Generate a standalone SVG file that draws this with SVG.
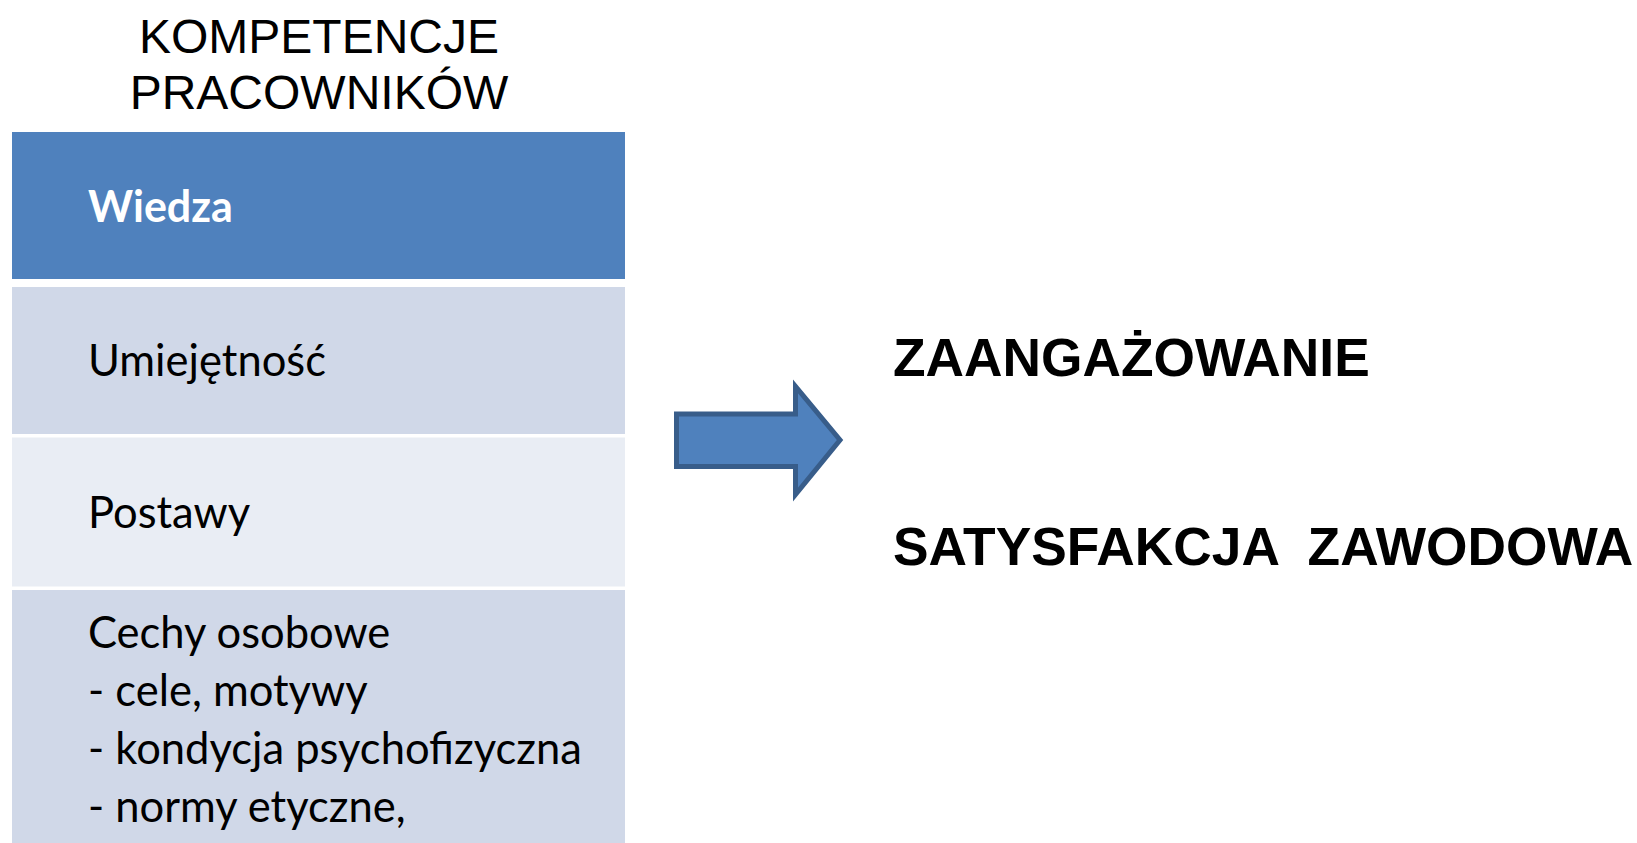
<svg xmlns="http://www.w3.org/2000/svg" width="1637" height="843" viewBox="0 0 1637 843">
<style>
.title{font-family:"Liberation Sans",Arial,sans-serif;font-size:48px;fill:#000;text-anchor:middle}
.lbl{font-family:Lato,"Open Sans",sans-serif;font-size:43.5px;fill:#000}
.lblw{font-family:Lato,"Open Sans",sans-serif;font-size:43px;font-weight:bold;fill:#fff}
.big{font-family:"Liberation Sans",Arial,sans-serif;font-size:53.3px;font-weight:bold;fill:#000}
</style>
<rect width="1637" height="843" fill="#fff"/>
<g id="title">
<text class="title" x="319" y="52.5">KOMPETENCJE</text>
<text class="title" x="319" y="108.5">PRACOWNIKÓW</text>
</g>
<g id="wiedza">
<rect x="12" y="132" width="613" height="147" fill="#4f81bd"/>
<text class="lblw" x="88" y="222">Wiedza</text>
</g>
<g id="umiejetnosc">
<rect x="12" y="287" width="613" height="147" fill="#d0d8e8"/>
<text class="lbl" x="88" y="376">Umiejętność</text>
</g>
<g id="postawy">
<rect x="12" y="437.5" width="613" height="149" fill="#e9edf4"/>
<text class="lbl" x="88" y="528">Postawy</text>
</g>
<g id="cechy">
<rect x="12" y="590" width="613" height="260" fill="#d0d8e8"/>
<text class="lbl" x="88" y="648">Cechy osobowe</text>
<text class="lbl" x="88" y="706">- cele, motywy</text>
<text class="lbl" x="88" y="764">- kondycja psychofizyczna</text>
<text class="lbl" x="88" y="822">- normy etyczne,</text>
</g>
<g id="connectors">
<path d="M676.5 414 L795.5 414 L795.5 386.5 L840 440 L795.5 494.5 L795.5 466.5 L676.5 466.5 Z" fill="#4f81bd" stroke="#385d8a" stroke-width="5" stroke-linejoin="miter"/>
</g>
<g id="zaangazowanie">
<text class="big" x="893" y="376">ZAANGAŻOWANIE</text>
</g>
<g id="satysfakcja">
<text class="big" x="893" y="565" xml:space="preserve">SATYSFAKCJA  ZAWODOWA</text>
</g>
</svg>
